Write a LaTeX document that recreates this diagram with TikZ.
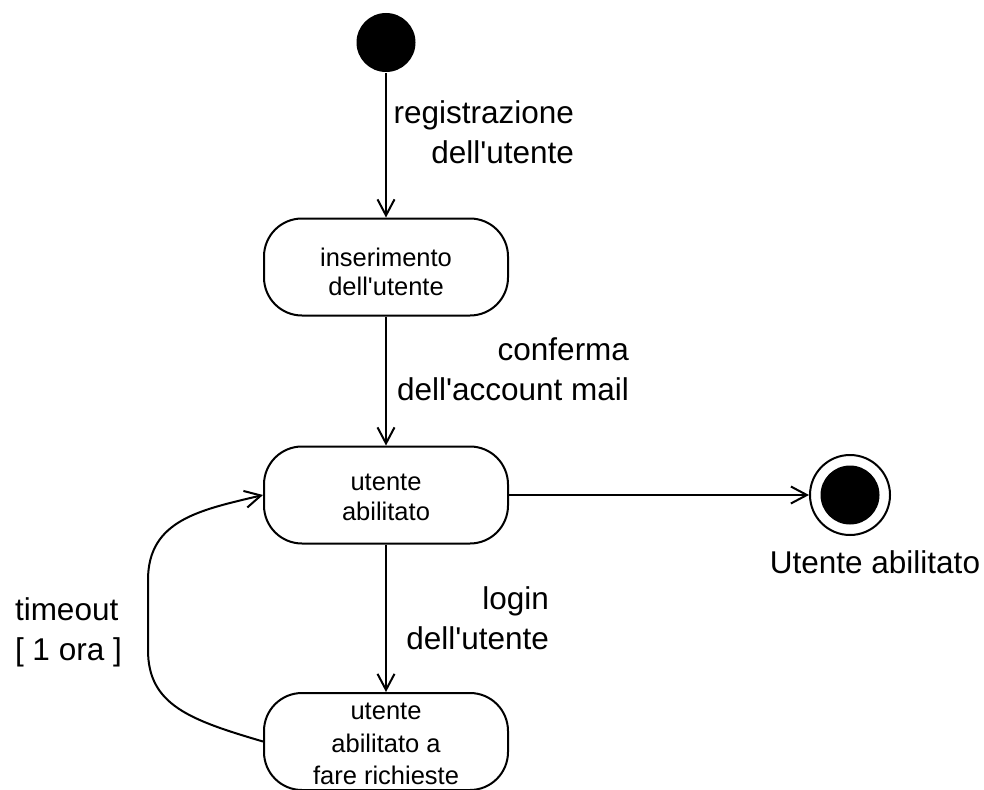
\documentclass[tikz,border=0pt]{standalone}
\usepackage{fontspec}
\setmainfont{Liberation Sans}
\usetikzlibrary{arrows.meta}
\newcommand\apo{\textquotesingle}
\begin{document}
\begin{tikzpicture}[x=1pt,y=-1pt,
  line width=2pt,
  arr/.style={-{Straight Barb[length=16pt,width=17pt,line width=2pt]}},
  stfont/.style={font=\fontsize{25.5}{#1}\selectfont},
  state/.style={draw, rectangle, rounded corners=38pt, minimum width=244pt,
    minimum height=97pt, inner sep=0pt, align=center},
  lbl/.style={font=\fontsize{31.5}{40}\selectfont, inner sep=0pt},
  initstate/.style={circle, fill=black, minimum size=59pt, inner sep=0pt},
  finalstate/.style={circle, draw, minimum size=80pt, inner sep=0pt}
]
\useasboundingbox (0,0) rectangle (984,789);

% states
\node[initstate] (init) at (386,42.5) {};
\node[state, stfont=29] (s1) at (386,267) {\rule{0pt}{28pt}inserimento\\dell\apo utente};
\node[state, stfont=30] (s2) at (386,495) {\rule{0pt}{22pt}utente\\abilitato};
\node[state, stfont=32.5] (s3) at (386,741.5) {\rule{0pt}{22pt}utente\\abilitato a\\fare richieste};
\node[finalstate] (fin) at (850,495) {};
\fill (fin.center) circle (29.5);

% transitions
\draw[arr] (init) -- (s1);
\draw[arr] (s1) -- (s2);
\draw[arr] (s2) -- (s3);
\draw[arr] (s2) -- (fin);
\draw[arr] (s3.west) .. controls (190,720) and (148,705) .. (148,650)
  -- (148,580) .. controls (148,520) and (200,510) .. (s2.west);

% transition labels (anchored on the baseline of their last line)
\node[lbl, align=right, anchor=base east] (lreg) at (575,163) {registrazione\\dell\apo utente};
\node[lbl, align=right, anchor=base east] (lconf) at (630,400) {conferma\\dell\apo account mail};
\node[lbl, align=right, anchor=base east] (llogin) at (550,649) {login\\dell\apo utente};
\node[lbl, align=left, anchor=base west] (ltime) at (14,660) {timeout\\{[} 1 ora ]};
\node[lbl, anchor=base] (lfin) at (875,573) {Utente abilitato};
\end{tikzpicture}
\end{document}
